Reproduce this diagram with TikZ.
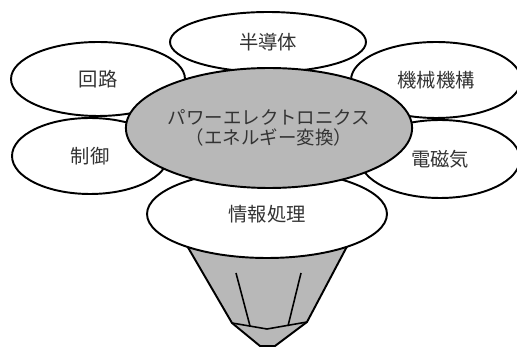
\documentclass[tikz,border=0pt]{standalone}
\usepackage{fontspec}
\newfontfamily\jp{Noto Sans CJK JP}
\usetikzlibrary{shapes.geometric}

\begin{document}
\begin{tikzpicture}[x=0.02cm, y=-0.02cm, font=\jp\fontsize{11}{12}\selectfont,
	petal/.style={ellipse, draw=black, line width=1.1pt, inner sep=0pt, text=black!80},
	core/.style={petal, fill=black!28, font=\jp\fontsize{10.5}{11.5}\selectfont}]
	\useasboundingbox (0,0) rectangle (517,347);
	% funnel below
	\coordinate (a1) at (172,220);
	\coordinate (a2) at (232,323);
	\coordinate (a3) at (260,346);
	\coordinate (a4) at (275,346);
	\coordinate (a5) at (307,322);
	\coordinate (a6) at (361,220);
	\coordinate (a7) at (267,329);
	\filldraw[fill=black!28, line width=1.1pt, line join=round] (a1) -- (a2) -- (a3) -- (a4) -- (a5) -- (a6) -- cycle;
	\draw[line width=0.9pt] (a2) -- (a7) -- (a5);
	\draw[line width=0.9pt] (236,273) -- (250,326);
	\draw[line width=0.9pt] (301,273) -- (288,326);
	% outer fields
	\node[petal, minimum width=3.92cm, minimum height=1.2cm] (v1) at (268,42) {半導体};
	\node[petal, minimum width=3.48cm, minimum height=1.48cm] (v2) at (98,79) {回路};
	\node[petal, minimum width=3.4cm, minimum height=1.52cm] (v3) at (436,80) {機械機構};
	\node[petal, minimum width=3.12cm, minimum height=1.52cm] (v4) at (90,156) {制御};
	\node[petal, minimum width=3.2cm, minimum height=1.56cm] (v5) at (440,159) {電磁気};
	\node[petal, fill=white, minimum width=4.8cm, minimum height=1.76cm] (v6) at (267,214) {情報処理};
	% centre
	\node[core, align=center, minimum width=4.92cm, minimum height=2.4cm] (c) at (269,128) {パワーエレクトロニクス\\（エネルギー変換）};
\end{tikzpicture}
\end{document}
